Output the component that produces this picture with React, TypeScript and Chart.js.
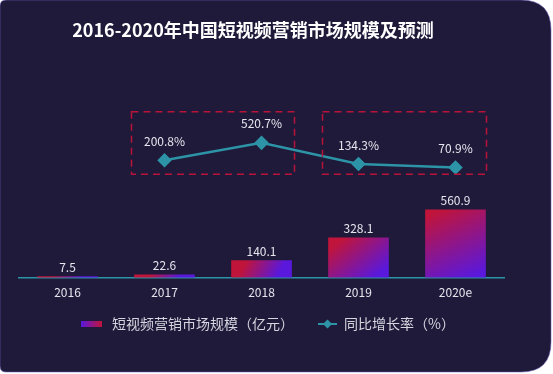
import React, { useEffect, useRef } from "react";
import { Chart, registerables } from "chart.js";

Chart.register(...registerables);

const categories = ["2016", "2017", "2018", "2019", "2020e"];
const marketSize = [7.5, 22.6, 140.1, 328.1, 560.9];
const growthRate: (number | null)[] = [null, 200.8, 520.7, 134.3, 70.9];
const barLegend = "短视频营销市场规模（亿元）";
const lineLegend = "同比增长率（%）";
const title = "2016-2020年中国短视频营销市场规模及预测";

const FONT = "'Noto Sans CJK SC', 'Noto Sans', sans-serif";
const BG = "#1f193a";
const TEAL = "#2d93a6";
const RED = "#c0143a";
const PURPLE = "#5a18dc";
const TEXT = "#e6e6ee";

function roundPath(ctx: CanvasRenderingContext2D, x: number, y: number, w: number, h: number, r: number[]) {
  const [tl, tr, br, bl] = r;
  ctx.beginPath();
  ctx.moveTo(x + tl, y);
  ctx.lineTo(x + w - tr, y);
  ctx.quadraticCurveTo(x + w, y, x + w, y + tr);
  ctx.lineTo(x + w, y + h - br);
  ctx.quadraticCurveTo(x + w, y + h, x + w - br, y + h);
  ctx.lineTo(x + bl, y + h);
  ctx.quadraticCurveTo(x, y + h, x, y + h - bl);
  ctx.lineTo(x, y + tl);
  ctx.quadraticCurveTo(x, y, x + tl, y);
  ctx.closePath();
}

const decorPlugin = {
  id: "decor",
  beforeDraw(chart: any) {
    const ctx = chart.ctx as CanvasRenderingContext2D;
    ctx.save();
    ctx.fillStyle = "#ffffff";
    ctx.fillRect(0, 0, chart.width, chart.height);
    roundPath(ctx, 0, 0, 551, 372, [6, 30, 30, 6]);
    ctx.fillStyle = BG;
    ctx.fill();
    ctx.strokeStyle = "rgba(110,100,190,0.55)";
    ctx.lineWidth = 1;
    ctx.stroke();
    ctx.fillStyle = "#ffffff";
    ctx.font = `bold 18px ${FONT}`;
    ctx.textAlign = "center";
    ctx.textBaseline = "middle";
    ctx.fillText(title, 253, 30);
    ctx.restore();
  },
  afterDatasetsDraw(chart: any) {
    const ctx = chart.ctx as CanvasRenderingContext2D;
    const x = chart.scales.x;
    const y1 = chart.scales.y1;
    ctx.save();
    ctx.strokeStyle = "#b8143a";
    ctx.lineWidth = 1.5;
    ctx.setLineDash([7, 5]);
    const top = y1.getPixelForValue(520.7) - 31;
    const bottom = y1.getPixelForValue(0) + 3;
    const boxes = [
      [1, 2, 33, 33],
      [3, 4, 36, 31],
    ];
    boxes.forEach(([a, b, ol, or]) => {
      const l = x.getPixelForValue(a) - ol;
      const r = x.getPixelForValue(b) + or;
      ctx.strokeRect(l, top, r - l, bottom - top);
    });
    ctx.setLineDash([]);
    ctx.fillStyle = TEXT;
    ctx.font = `12px ${FONT}`;
    ctx.textAlign = "center";
    ctx.textBaseline = "middle";
    const barMeta = chart.getDatasetMeta(0);
    barMeta.data.forEach((el: any, i: number) => {
      ctx.fillText(String(marketSize[i]), el.x, el.y - 9);
    });
    const lineMeta = chart.getDatasetMeta(1);
    lineMeta.data.forEach((el: any, i: number) => {
      const v = growthRate[i];
      if (v == null) return;
      ctx.fillText(v.toFixed(1) + "%", el.x, el.y - 19);
    });
    ctx.restore();
  },
  afterDraw(chart: any) {
    const ctx = chart.ctx as CanvasRenderingContext2D;
    ctx.save();
    const ly = 324;
    const g = ctx.createLinearGradient(81, 0, 102, 0);
    g.addColorStop(0, PURPLE);
    g.addColorStop(1, RED);
    ctx.fillStyle = g;
    ctx.fillRect(81, ly - 3, 21, 6);
    ctx.fillStyle = "#d6d6e0";
    ctx.font = `14px ${FONT}`;
    ctx.textAlign = "left";
    ctx.textBaseline = "middle";
    ctx.fillText(barLegend, 112, ly);
    ctx.strokeStyle = TEAL;
    ctx.lineWidth = 2;
    ctx.beginPath();
    ctx.moveTo(318, ly);
    ctx.lineTo(337, ly);
    ctx.stroke();
    ctx.fillStyle = TEAL;
    ctx.beginPath();
    ctx.moveTo(327.5, ly - 4.5);
    ctx.lineTo(332, ly);
    ctx.lineTo(327.5, ly + 4.5);
    ctx.lineTo(323, ly);
    ctx.closePath();
    ctx.fill();
    ctx.fillStyle = "#d6d6e0";
    ctx.fillText(lineLegend, 344, ly);
    ctx.restore();
  },
};

export default function App() {
  const ref = useRef<HTMLCanvasElement>(null);
  useEffect(() => {
    if (!ref.current) return;
    const chart = new Chart(ref.current, {
      type: "bar",
      data: {
        labels: categories,
        datasets: [
          {
            type: "bar",
            data: marketSize,
            yAxisID: "y",
            barThickness: 60,
            order: 2,
            backgroundColor: (c: any) => {
              const ch = c.chart;
              if (!ch.chartArea || c.type !== "data") return "#8a1890";
              const xs = ch.scales.x;
              const ys = ch.scales.y;
              const px = xs.getPixelForValue(c.dataIndex);
              const t = ys.getPixelForValue(c.raw);
              const b = ys.getPixelForValue(0);
              const g = ch.ctx.createLinearGradient(px - 15, t, px + 15, b);
              g.addColorStop(0, RED);
              g.addColorStop(1, PURPLE);
              return g;
            },
          } as any,
          {
            type: "line",
            data: growthRate,
            yAxisID: "y1",
            order: 1,
            borderColor: TEAL,
            borderWidth: 2.5,
            backgroundColor: TEAL,
            pointStyle: "rectRot",
            pointRadius: 5.5,
            pointBackgroundColor: TEAL,
            pointBorderColor: TEAL,
            tension: 0,
          } as any,
        ],
      },
      options: {
        animation: false,
        responsive: false,
        devicePixelRatio: 1,
        layout: { padding: { left: 19, right: 49, top: 60, bottom: 66 } },
        plugins: { legend: { display: false }, tooltip: { enabled: false } },
        scales: {
          x: {
            grid: { display: false, drawTicks: false },
            border: { display: true, color: TEAL, width: 1.5 },
            ticks: { color: TEXT, font: { size: 12, family: FONT }, padding: 8 },
          },
          y: { display: false, min: 0, max: 1800 },
          y1: { display: false, min: -1945, max: 2037, position: "right" },
        },
      },
      plugins: [decorPlugin],
    });
    return () => chart.destroy();
  }, []);
  return (
    <div style={{ position: "absolute", left: 0, top: 0, width: 553, height: 374 }}>
      <canvas ref={ref} width={553} height={374} style={{ width: 553, height: 374, display: "block" }} />
    </div>
  );
}
